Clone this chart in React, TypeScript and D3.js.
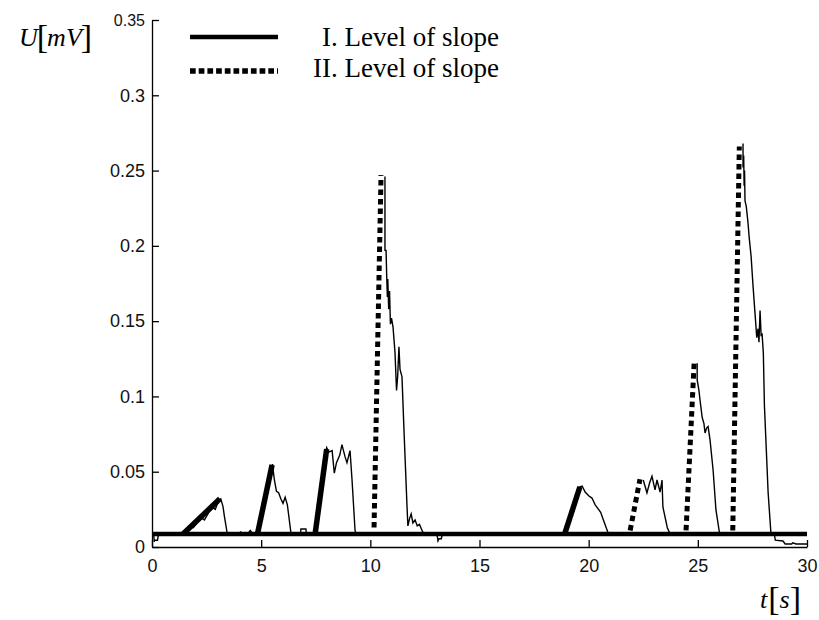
import React, { useEffect, useRef } from 'react';
import * as d3 from 'd3';

// measured signal U[mV] over t[s]; NaN breaks the trace where the dotted slope covers the rise
const sigTime = [
  0, 0.08, 0.1, 0.13, 0.25, 0.3, 1.4, 1.6, 1.8, 1.9, 2.1, 2.3, 2.4, 2.6, 2.8, 2.9, 3.05, 3.15, 3.25, 3.32, 3.45,
  4.0, 4.05, 4.15, 4.4, 4.5, 4.6, 4.85, 5.0, 5.2, 5.4, 5.52, 5.6, 5.7, 5.8, 5.9, 6.0, 6.1, 6.2, 6.37,
  6.8, 6.82, 7.05, 7.07, 7.5, 7.7, 7.85, 8.0, 8.1, 8.25, 8.35, 8.45, 8.6, 8.7, 8.84, 8.93, 9.07, 9.16, 9.3, 9.35,
  10.17, 10.2,
  10.67, 10.67, 10.72, 10.75, 10.78, 10.8, 10.84, 10.88, 10.92, 10.97, 11.04, 11.13, 11.2, 11.25, 11.31, 11.36,
  11.45, 11.54, 11.68, 11.72, 11.8, 11.87, 11.95, 12.05, 12.15, 12.25, 12.4, 12.5, 13.05, 13.1, 13.15, 13.25, 13.3,
  18.5, 18.6, 18.8, 19.0, 19.2, 19.4, 19.6, 19.7, 19.84, 20.0, 20.15, 20.3, 20.4, 20.55, 20.65, 20.85, 20.9,
  21.9, 21.95,
  22.5, 22.67, 22.8, 22.9, 23.04, 23.13, 23.27, 23.36, 23.4, 23.6, 23.73,
  24.46, 24.5,
  24.97, 24.97, 25.05, 25.1, 25.2, 25.28, 25.33, 25.4, 25.47, 25.56, 25.7, 25.83, 26.0,
  26.6, 26.65,
  27.07, 27.07, 27.1, 27.12, 27.14, 27.16, 27.22, 27.3, 27.35, 27.44, 27.53, 27.62, 27.7, 27.76, 27.8, 27.85,
  27.9, 27.94, 28.0, 28.05, 28.22, 28.35, 28.5, 28.55, 28.9, 29.0, 29.3, 29.35, 29.5, 30,
];
const sigU = [
  0.0086, 0.0086, 0.0035, 0.0045, 0.0045, 0.0086, 0.0086, 0.011, 0.014, 0.013, 0.017, 0.019, 0.018, 0.023, 0.026, 0.025, 0.031, 0.032, 0.027, 0.02, 0.0086,
  0.0086, 0.010, 0.009, 0.009, 0.011, 0.009, 0.009, 0.02, 0.034, 0.048, 0.055, 0.045, 0.037, 0.036, 0.032, 0.029, 0.033, 0.028, 0.0086,
  0.0086, 0.012, 0.012, 0.0086, 0.0086, 0.035, 0.055, 0.066, 0.063, 0.064, 0.049, 0.056, 0.061, 0.068, 0.06, 0.056, 0.064, 0.045, 0.011, 0.0086,
  0.0086, NaN,
  0.246, 0.197, 0.197, 0.18, 0.166, 0.178, 0.158, 0.17, 0.148, 0.152, 0.146, 0.129, 0.104, 0.113, 0.133, 0.118,
  0.113, 0.078, 0.027, 0.014, 0.019, 0.022, 0.016, 0.018, 0.014, 0.015, 0.010, 0.0086, 0.0086, 0.004, 0.0055, 0.0055, 0.0086,
  0.0086, 0.0095, 0.009, 0.012, 0.024, 0.034, 0.040, 0.0405, 0.0365, 0.034, 0.0325, 0.028, 0.026, 0.023, 0.019, 0.011, 0.0086,
  0.0086, NaN,
  0.0445, 0.036, 0.043, 0.047, 0.038, 0.0445, 0.0365, 0.0445, 0.0266, 0.013, 0.0086,
  0.0086, NaN,
  0.122, 0.111, 0.104, 0.0976, 0.086, 0.082, 0.0757, 0.079, 0.08, 0.071, 0.051, 0.0246, 0.0086,
  0.0086, NaN,
  0.268, 0.252, 0.26, 0.24, 0.25, 0.23, 0.226, 0.215, 0.206, 0.193, 0.173, 0.155, 0.139, 0.145, 0.136, 0.157,
  0.14, 0.142, 0.129, 0.094, 0.036, 0.0086, 0.0086, 0.0046, 0.004, 0.002, 0.002, 0.0028, 0.002, 0.002,
];

// level line
const levelU = 0.0086;
const levelSpan = [0, 30];

// I. level of slope: [t0, u0, t1, u1]
const slopeOne = [
  [1.42, 0.0086, 3.11, 0.032],
  [4.83, 0.0086, 5.5, 0.0545],
  [7.47, 0.0086, 8.0, 0.065],
  [18.92, 0.0095, 19.6, 0.04],
];
// II. level of slope: [t0, u0, t1, u1]
const slopeTwo = [
  [10.17, 0.013, 10.49, 0.247],
  [21.9, 0.011, 22.35, 0.045],
  [24.46, 0.011, 24.83, 0.122],
  [26.6, 0.011, 26.9, 0.266],
];

const xTicks = [0, 5, 10, 15, 20, 25, 30];
const yTicks = [0, 0.05, 0.1, 0.15, 0.2, 0.25, 0.3, 0.35];
const legendLabels = ['I. Level of slope', 'II. Level of slope'];

const W = 819, H = 620;
const x = d3.scaleLinear().domain([0, 30]).range([152, 807]);
const y = d3.scaleLinear().domain([0, 0.35]).range([547, 20]);

export default function App() {
  const xAxisRef = useRef<SVGGElement>(null);
  const yAxisRef = useRef<SVGGElement>(null);

  useEffect(() => {
    const fmt = (d: any) => String(d);
    const xg = d3.select(xAxisRef.current);
    xg.selectAll('*').remove();
    xg.call(d3.axisBottom(x).tickValues(xTicks).tickFormat(fmt).tickSizeInner(-7).tickSizeOuter(0).tickPadding(12));
    const yg = d3.select(yAxisRef.current);
    yg.selectAll('*').remove();
    yg.call(d3.axisLeft(y).tickValues(yTicks).tickFormat(fmt).tickSizeInner(-7).tickSizeOuter(0).tickPadding(7));

    [xg, yg].forEach(g => {
      g.selectAll('path, line').attr('stroke', '#000').attr('stroke-width', 1.3);
      g.selectAll('text')
        .attr('fill', '#111')
        .style('font-family', '"Liberation Sans", Arial, sans-serif')
        .style('font-size', '18px');
    });
    // the top label is printed a little smaller in the original
    yg.selectAll('text').filter((d: any) => d === 0.35).style('font-size', '16px');
  }, []);

  const sigLine = d3.line<number>()
    .defined((_, i) => !isNaN(sigU[i]))
    .x((_, i) => x(sigTime[i]))
    .y((_, i) => y(sigU[i]));

  const seg = (s: number[]) => `M${x(s[0])},${y(s[1])}L${x(s[2])},${y(s[3])}`;

  return (
    <svg width={W} height={H} style={{ position: 'absolute', left: 0, top: 0, background: '#fff' }}>
      <g ref={yAxisRef} transform={`translate(${x(0)},0)`} />
      <g ref={xAxisRef} transform={`translate(0,${y(0)})`} />

      <path d={sigLine(sigTime) || ''} fill="none" stroke="#000" strokeWidth={1.4} />

      <line x1={x(levelSpan[0])} x2={x(levelSpan[1])} y1={y(levelU)} y2={y(levelU)} stroke="#000" strokeWidth={4.5} />

      {slopeOne.map((s, i) => (
        <path key={'a' + i} d={seg(s)} stroke="#000" strokeWidth={5.5} fill="none" />
      ))}
      {slopeTwo.map((s, i) => (
        <path key={'b' + i} d={seg(s)} stroke="#000" strokeWidth={5} strokeDasharray="5.5 4" fill="none" />
      ))}

      {/* legend */}
      <line x1={190} x2={278} y1={37} y2={37} stroke="#000" strokeWidth={4.5} />
      <line x1={190} x2={278} y1={71} y2={71} stroke="#000" strokeWidth={5.5} strokeDasharray="5.7 3" />
      <g style={{ fontFamily: '"Liberation Serif", "Times New Roman", serif', fontSize: '27px' }} fill="#000">
        <text x={322} y={46}>{legendLabels[0]}</text>
        <text x={313} y={77}>{legendLabels[1]}</text>
      </g>

      {/* axis titles */}
      <g style={{ fontFamily: '"Liberation Serif", "Times New Roman", serif' }} fill="#000">
        <text x={19} y={46} fontSize={26}>
          <tspan fontStyle="italic">U</tspan>
          <tspan fontSize={34} dy={2} dx={-1}>[</tspan>
          <tspan fontStyle="italic" dy={-2} dx={-1}>mV</tspan>
          <tspan fontSize={34} dy={2} dx={-1}>]</tspan>
        </text>
        <text x={760} y={608} fontSize={26}>
          <tspan fontStyle="italic">t</tspan>
          <tspan fontSize={34} dy={2} dx={1}>[</tspan>
          <tspan fontStyle="italic" dy={-2}>s</tspan>
          <tspan fontSize={34} dy={2}>]</tspan>
        </text>
      </g>
    </svg>
  );
}
